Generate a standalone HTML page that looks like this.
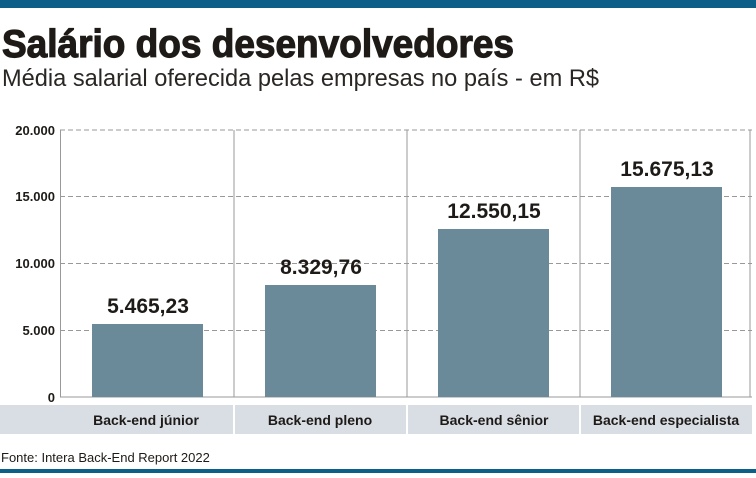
<!DOCTYPE html>
<html><head><meta charset="utf-8"><style>
body{margin:0;width:756px;height:473px;background:#fff;overflow:hidden;font-family:"Liberation Sans",sans-serif}
</style></head><body>
<svg width="756" height="473" xmlns="http://www.w3.org/2000/svg" font-family="Liberation Sans, sans-serif">
<rect x="0" y="0" width="756" height="8" fill="#0b5f88"/>
<rect x="0" y="469" width="756" height="4" fill="#0b5f88"/>
<text x="2" y="57" font-size="39" font-weight="bold" fill="#1e1a17" stroke="#1e1a17" stroke-width="1.2" textLength="512" lengthAdjust="spacingAndGlyphs">Salário dos desenvolvedores</text>
<text x="2" y="86" font-size="24" fill="#2a2624" textLength="597" lengthAdjust="spacingAndGlyphs">Média salarial oferecida pelas empresas no país - em R$</text>
<g stroke="#999" stroke-dasharray="5,3" stroke-width="1">
<line x1="60" y1="130" x2="752" y2="130"/>
<line x1="60" y1="196.5" x2="752" y2="196.5"/>
<line x1="60" y1="263.5" x2="752" y2="263.5"/>
<line x1="60" y1="330.5" x2="752" y2="330.5"/>
</g>
<g stroke="#999" stroke-width="1">
<line x1="60.5" y1="130" x2="60.5" y2="397"/>
<line x1="234" y1="130" x2="234" y2="397"/>
<line x1="407" y1="130" x2="407" y2="397"/>
<line x1="580" y1="130" x2="580" y2="397"/>
<line x1="750" y1="130" x2="750" y2="397"/>
<line x1="60" y1="397" x2="752" y2="397"/>
</g>
<g font-size="13" font-weight="bold" fill="#1e1a17" text-anchor="end">
<text x="55" y="135">20.000</text>
<text x="55" y="201">15.000</text>
<text x="55" y="268">10.000</text>
<text x="55" y="335">5.000</text>
<text x="55" y="402">0</text>
</g>
<g fill="#6b8a99">
<rect x="92" y="324" width="111" height="73"/>
<rect x="265" y="285" width="111" height="112"/>
<rect x="438" y="229" width="111" height="168"/>
<rect x="611" y="187" width="111" height="210"/>
</g>
<g font-size="21" font-weight="bold" fill="#1e1a17" text-anchor="middle">
<text x="148" y="313">5.465,23</text>
<text x="321" y="274">8.329,76</text>
<text x="494" y="218">12.550,15</text>
<text x="667" y="176">15.675,13</text>
</g>
<rect x="0" y="405" width="752" height="29" fill="#d8dee4"/>
<g stroke="#fff" stroke-width="2">
<line x1="234" y1="405" x2="234" y2="434"/>
<line x1="407" y1="405" x2="407" y2="434"/>
<line x1="580" y1="405" x2="580" y2="434"/>
</g>
<g font-size="14" font-weight="bold" fill="#1e1a17" text-anchor="middle">
<text x="146" y="425">Back-end júnior</text>
<text x="320" y="425">Back-end pleno</text>
<text x="494" y="425">Back-end sênior</text>
<text x="666" y="425">Back-end especialista</text>
</g>
<text x="1" y="462" font-size="13" fill="#1e1a17">Fonte: Intera Back-End Report 2022</text>
</svg>
</body></html>
